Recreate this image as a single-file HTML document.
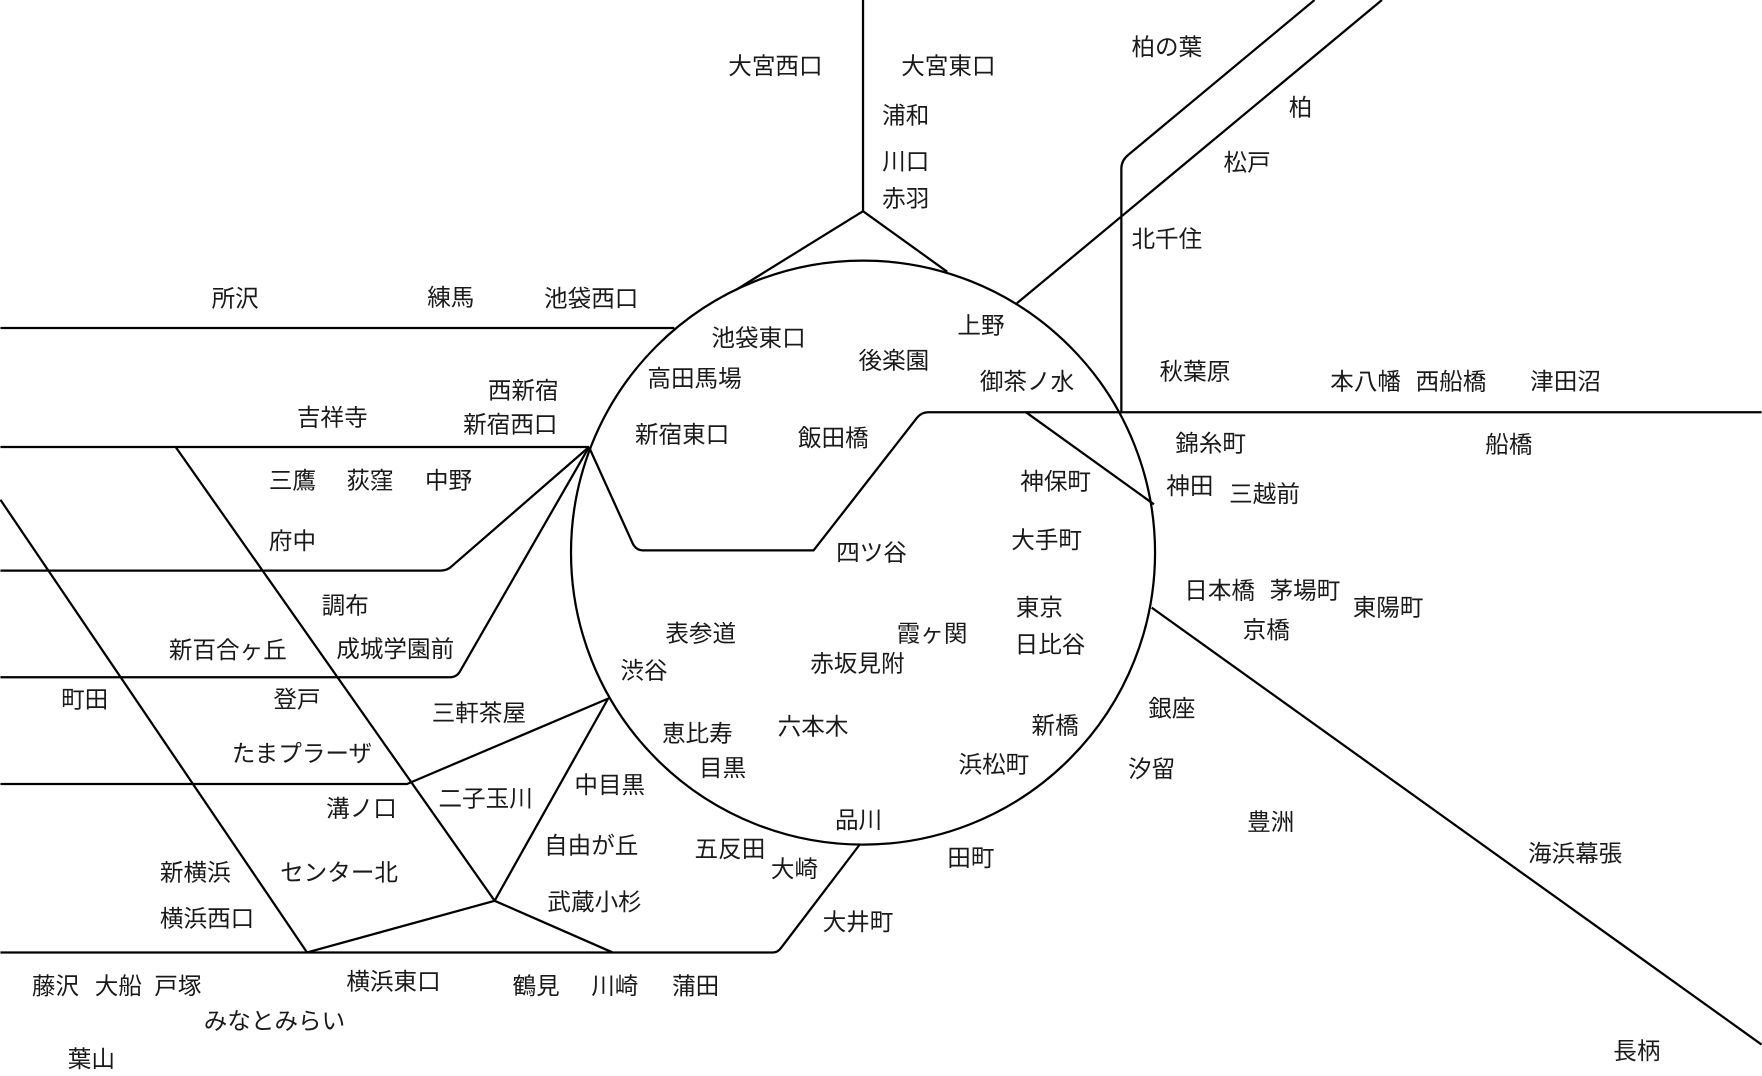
<!DOCTYPE html>
<html><head><meta charset="utf-8"><style>
html,body{margin:0;padding:0;background:#fff;width:1762px;height:1076px;overflow:hidden}
svg{display:block}
text{font-family:"Liberation Sans","Noto Sans CJK JP",sans-serif;font-size:21px;fill:#1a1a1a}
</style></head><body>
<svg width="1762" height="1076" viewBox="0 0 1568 958" xmlns="http://www.w3.org/2000/svg">
<g fill="none" stroke="#000" stroke-width="2" stroke-linejoin="round">
<circle cx="768" cy="492" r="260"/>
<path d="M768 0V188L655 258M768 188L843 242"/>
<path d="M1170 0L1004 138Q998 143 998 150V367"/>
<path d="M1230 0L905 270"/>
<path d="M0 292H600"/>
<path d="M1568 367H826Q820 367 816 372L724 490H572Q566 490 563 484L524 398"/>
<path d="M913 367L1027 449"/>
<path d="M1025 541L1568 930"/>
<path d="M0 398H524"/>
<path d="M156 398L440 802"/>
<path d="M0 445L273 848"/>
<path d="M0 508H392Q398 508 402 504L524 398"/>
<path d="M0 603H400Q406 603 409 598L524 398"/>
<path d="M0 698H362L541 622L440 802L273 848M440 802L545 848"/>
<path d="M0 848H688Q692 848 695 844L765 752"/>
</g>
<g>
<text x="648" y="66">大宮西口</text><text x="802" y="66">大宮東口</text>
<text x="785" y="110">浦和</text><text x="785" y="151">川口</text><text x="785" y="184">赤羽</text>
<text x="1007" y="49">柏の葉</text><text x="1147" y="103">柏</text><text x="1089" y="152">松戸</text>
<text x="1007" y="220">北千住</text>
<text x="188" y="273">所沢</text><text x="380" y="272">練馬</text><text x="484" y="273">池袋西口</text>
<text x="633" y="308">池袋東口</text><text x="576" y="344">高田馬場</text><text x="764" y="328">後楽園</text>
<text x="852" y="297">上野</text><text x="872" y="347">御茶ノ水</text>
<text x="1032" y="338">秋葉原</text><text x="1184" y="347">本八幡</text><text x="1260" y="347">西船橋</text><text x="1362" y="347">津田沼</text>
<text x="1046" y="402">錦糸町</text><text x="1322" y="403">船橋</text>
<text x="434" y="355">西新宿</text><text x="412" y="385">新宿西口</text>
<text x="264" y="379">吉祥寺</text><text x="565" y="394">新宿東口</text><text x="710" y="397">飯田橋</text>
<text x="239" y="435">三鷹</text><text x="308" y="435">荻窪</text><text x="378" y="435">中野</text>
<text x="908" y="436">神保町</text><text x="1038" y="440">神田</text><text x="1094" y="447">三越前</text>
<text x="239" y="489">府中</text><text x="744" y="499">四ツ谷</text><text x="900" y="488">大手町</text>
<text x="1054" y="533">日本橋</text><text x="1130" y="533">茅場町</text><text x="1204" y="548">東陽町</text>
<text x="1106" y="568">京橋</text>
<text x="286" y="546">調布</text><text x="904" y="548">東京</text>
<text x="592" y="571">表参道</text><text x="798" y="571">霞ヶ関</text><text x="903" y="581">日比谷</text>
<text x="150" y="586">新百合ヶ丘</text><text x="299" y="585">成城学園前</text>
<text x="552" y="604">渋谷</text><text x="721" y="598">赤坂見附</text>
<text x="54" y="630">町田</text><text x="243" y="630">登戸</text><text x="1022" y="638">銀座</text>
<text x="384" y="642">三軒茶屋</text>
<text x="589" y="660">恵比寿</text><text x="692" y="654">六本木</text><text x="918" y="653">新橋</text>
<text x="206" y="678">たまプラーザ</text><text x="622" y="691">目黒</text><text x="853" y="688">浜松町</text>
<text x="1004" y="692">汐留</text>
<text x="511" y="706">中目黒</text><text x="390" y="718">二子玉川</text><text x="290" y="727">溝ノ口</text>
<text x="743" y="737">品川</text><text x="1110" y="739">豊洲</text>
<text x="484" y="760">自由が丘</text><text x="618" y="763">五反田</text><text x="843" y="771">田町</text>
<text x="1360" y="767">海浜幕張</text>
<text x="142" y="784">新横浜</text><text x="249" y="784">センター北</text><text x="686" y="781">大崎</text>
<text x="142" y="825">横浜西口</text><text x="487" y="810">武蔵小杉</text><text x="732" y="828">大井町</text>
<text x="28" y="885">藤沢</text><text x="84" y="885">大船</text><text x="137" y="885">戸塚</text>
<text x="308" y="881">横浜東口</text><text x="456" y="885">鶴見</text><text x="526" y="885">川崎</text><text x="598" y="885">蒲田</text>
<text x="181" y="916">みなとみらい</text>
<text x="60" y="950">葉山</text><text x="1436" y="943">長柄</text>
</g>
</svg>
</body></html>
